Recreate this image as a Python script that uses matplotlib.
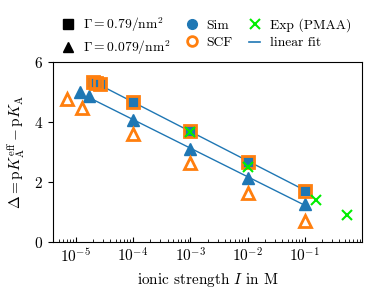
import numpy as np
import matplotlib
matplotlib.use("Agg")
import matplotlib.pyplot as plt
from matplotlib.lines import Line2D

plt.rcParams['font.family'] = 'serif'
plt.rcParams['font.serif'] = ['cmr10']
plt.rcParams['mathtext.fontset'] = 'cm'
plt.rcParams['axes.formatter.use_mathtext'] = True
plt.rcParams['axes.unicode_minus'] = False
plt.rcParams['font.size'] = 11

# Gamma = 0.79/nm^2 (squares)
I_sim_hi = [2.0e-5, 2.3e-5, 2.6e-5, 1e-4, 1e-3, 1e-2, 1e-1]
d_sim_hi = [5.30, 5.32, 5.25, 4.67, 3.70, 2.68, 1.73]
I_scf_hi = [2.0e-5, 2.3e-5, 2.6e-5, 1e-4, 1e-3, 1e-2, 1e-1]
d_scf_hi = [5.32, 5.30, 5.25, 4.65, 3.70, 2.68, 1.70]

# Gamma = 0.079/nm^2 (triangles)
I_sim_lo = [1.2e-5, 1.7e-5, 1e-4, 1e-3, 1e-2, 1e-1]
d_sim_lo = [5.00, 4.85, 4.07, 3.10, 2.13, 1.27]
I_scf_lo = [7e-6, 1.3e-5, 1e-4, 1e-3, 1e-2, 1e-1]
d_scf_lo = [4.77, 4.47, 3.60, 2.63, 1.63, 0.70]

# experiment (PMAA)
I_exp = [1e-3, 1e-2, 0.155, 0.55]
d_exp = [3.67, 2.50, 1.40, 0.90]

blue = '#1f77b4'
orange = '#ff7f0e'
green = '#00ee00'

fig = plt.figure(figsize=(3.73, 2.98), dpi=100)
ax = fig.add_axes([0.142, 0.188, 0.829, 0.604])

# linear fits in log10(I)
for I, d, skip in [(I_sim_hi, d_sim_hi, 0), (I_sim_lo, d_sim_lo, 1)]:
    lx = np.log10(I[skip:])
    k, b = np.polyfit(lx, d[skip:], 1)
    xs = np.array([lx.min(), lx.max()])
    ax.plot(10 ** xs, k * xs + b, color=blue, lw=1, zorder=1)

ax.plot(I_sim_hi, d_sim_hi, 's', color=blue, ms=7, zorder=2)
ax.plot(I_scf_hi, d_scf_hi, 's', mfc='none', mec=orange, mew=2, ms=8, zorder=3)
ax.plot(I_sim_lo, d_sim_lo, '^', color=blue, ms=8, zorder=2)
ax.plot(I_scf_lo, d_scf_lo, '^', mfc='none', mec=orange, mew=2, ms=8, zorder=3)
ax.plot(I_exp, d_exp, 'x', color=green, ms=7, mew=1.5, zorder=4)

ax.set_xscale('log')
ax.set_xlim(4e-6, 1)
ax.set_ylim(0, 6)
ax.set_yticks([0, 2, 4, 6])
ax.set_xticks([1e-5, 1e-4, 1e-3, 1e-2, 1e-1])
ax.tick_params(axis='x', which='both', direction='in')
ax.set_xlabel(r'ionic strength $I$ in M')
ax.set_ylabel(r'$\Delta = \mathrm{p}K_\mathrm{A}^\mathrm{eff} - \mathrm{p}K_\mathrm{A}$')

handles = [
    Line2D([], [], ls='none', marker='s', color='k', ms=7),
    Line2D([], [], ls='none', marker='^', color='k', ms=7),
    Line2D([], [], ls='none', marker='o', color=blue, ms=7),
    Line2D([], [], ls='none', marker='o', mfc='none', mec=orange, mew=2, ms=7),
    Line2D([], [], ls='none', marker='x', color=green, ms=7, mew=1.5),
    Line2D([], [], color=blue, lw=1.2),
]
labels = [r'$\Gamma = 0.79/\mathrm{nm}^2$', r'$\Gamma = 0.079/\mathrm{nm}^2$',
          'Sim', 'SCF', 'Exp (PMAA)', 'linear fit']
fig.legend(handles, labels, ncol=3, frameon=False, loc='upper left',
           bbox_to_anchor=(0.134, 0.99), fontsize=9.8, handlelength=0.8,
           handletextpad=0.7, columnspacing=1.2, labelspacing=0.35)

plt.savefig('out.png', dpi=100)
